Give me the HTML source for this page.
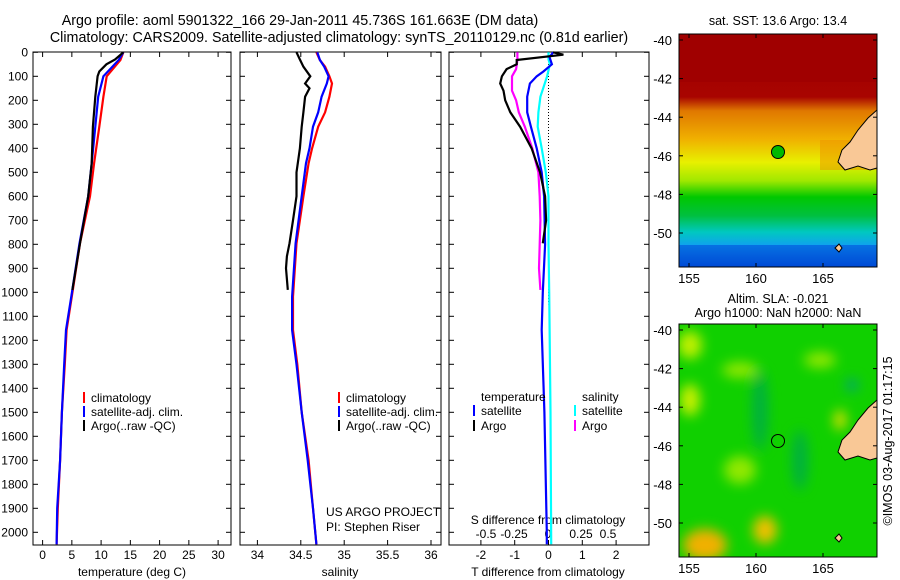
<!DOCTYPE html>
<html><head><meta charset="utf-8"><style>
body{margin:0;background:#fff;}
svg{display:block;font-family:"Liberation Sans",sans-serif;}
</style></head><body>
<svg id="fig" width="900" height="580" viewBox="0 0 900 580" xmlns="http://www.w3.org/2000/svg">
<defs>
<linearGradient id="sst" x1="0" y1="0" x2="0" y2="1">
<stop offset="0" stop-color="#a00000"/><stop offset="0.27" stop-color="#a80400"/>
<stop offset="0.33" stop-color="#e07800"/><stop offset="0.45" stop-color="#f0b000"/>
<stop offset="0.55" stop-color="#e8f000"/><stop offset="0.63" stop-color="#a0e800"/>
<stop offset="0.70" stop-color="#00c800"/><stop offset="0.78" stop-color="#00c040"/>
<stop offset="0.85" stop-color="#00c8c0"/><stop offset="0.91" stop-color="#10a0f0"/>
<stop offset="1" stop-color="#0040d0"/></linearGradient>
<filter id="blur"><feGaussianBlur stdDeviation="6"/></filter>
<clipPath id="c1"><rect x="679" y="34" width="198" height="233"/></clipPath>
<clipPath id="c2"><rect x="679" y="324" width="198" height="233"/></clipPath>
</defs>
<text x="300" y="25" text-anchor="middle" font-size="14.3">Argo profile: aoml 5901322_166 29-Jan-2011 45.736S 161.663E (DM data)</text>
<text x="339" y="42" text-anchor="middle" font-size="14.3">Climatology: CARS2009. Satellite-adjusted climatology: synTS_20110129.nc (0.81d earlier)</text>
<g id="panels"></g>

<g>
<text x="778" y="25" text-anchor="middle" font-size="12.5">sat. SST: 13.6 Argo: 13.4</text>
<g clip-path="url(#c1)">
<rect x="679" y="34" width="198" height="233" fill="url(#sst)"/>
<rect x="679" y="34" width="198" height="48" fill="#a00000"/>
<rect x="820" y="140" width="57" height="30" fill="#f09000" opacity="0.5"/>
<rect x="679" y="245" width="198" height="22" fill="#0050d8" opacity="0.6"/>
<path d="M877,110 L868,118 L858,130 L850,142 L842,150 L838,162 L845,170 L858,166 L870,170 L877,168 Z" fill="#f9c896" stroke="#000" stroke-width="1"/>
<path d="M835,248 l4,-4 l3,4 l-3,4z" fill="#f9c896" stroke="#000"/>
<circle cx="778" cy="152" r="6.5" fill="#00b800" stroke="#000" stroke-width="1"/>
</g>
<rect x="679" y="34" width="198" height="233" fill="none" stroke="#000"/>
</g>

<g>
<text x="778" y="303" text-anchor="middle" font-size="12.5">Altim. SLA: -0.021</text>
<text x="778" y="317" text-anchor="middle" font-size="12.5">Argo h1000: NaN h2000: NaN</text>
<g clip-path="url(#c2)">
<rect x="679" y="324" width="198" height="233" fill="#10d000"/>
<g filter="url(#blur)">
<ellipse cx="690" cy="345" rx="12" ry="14" fill="#c0f000"/>
<ellipse cx="740" cy="370" rx="18" ry="8" fill="#90e800"/>
<ellipse cx="820" cy="360" rx="16" ry="8" fill="#90e800"/>
<ellipse cx="690" cy="400" rx="10" ry="16" fill="#c8f000"/>
<ellipse cx="760" cy="410" rx="8" ry="40" fill="#00b040"/>
<ellipse cx="840" cy="420" rx="6" ry="10" fill="#e0e000"/>
<ellipse cx="852" cy="385" rx="6" ry="6" fill="#00a080"/>
<ellipse cx="740" cy="470" rx="16" ry="14" fill="#90e800"/>
<ellipse cx="705" cy="545" rx="22" ry="16" fill="#f0b000"/>
<ellipse cx="765" cy="530" rx="12" ry="14" fill="#f0c000"/>
<ellipse cx="800" cy="460" rx="8" ry="30" fill="#00b040"/>
</g>
<path d="M877,400 L868,408 L858,420 L850,432 L842,440 L838,452 L845,460 L858,456 L870,460 L877,458 Z" fill="#f9c896" stroke="#000" stroke-width="1"/>
<path d="M835,538 l4,-4 l3,4 l-3,4z" fill="#f9c896" stroke="#000"/>
<circle cx="778" cy="441" r="6.5" fill="none" stroke="#000" stroke-width="1"/>
</g>
<rect x="679" y="324" width="198" height="233" fill="none" stroke="#000"/>
</g>
<text transform="translate(892,441) rotate(-90)" text-anchor="middle" font-size="12.5">©IMOS 03-Aug-2017 01:17:15</text>
<g id="maplabels"></g>
</svg>
<script>
const NS='http://www.w3.org/2000/svg';
const svgP=document.getElementById('panels');
const depthTicks=[0,100,200,300,400,500,600,700,800,900,1000,1100,1200,1300,1400,1500,1600,1700,1800,1900,2000];
const tempTicks=[0,5,10,15,20,25,30];
const salTicks=[34,34.5,35,35.5,36];
const salTickLabels=['34','34.5','35','35.5','36'];
const tdiffTicks=[-2,-1,0,1,2];
const sdiffTicks=[-0.5,-0.25,0,0.25,0.5];
const climDepth=[0,32,100,185,310,462,600,796,1018,1157,1300,1500,1700,1900,2050];
const climTemp=[13.8,13.3,10.95,10.4,9.7,8.8,8.1,6.4,5.0,4.1,3.8,3.3,3.0,2.6,2.4];
const satTemp=[13.8,13.0,10.4,9.5,9.0,8.4,7.8,6.3,4.9,4.0,3.7,3.3,3.0,2.5,2.4];
const argoDepth=[0,30,50,80,100,185,310,462,600,796,990];
const argoTemp=[13.8,12.4,10.9,9.7,9.4,9.0,8.6,8.4,7.8,6.4,5.1];
const salDepth=[0,32,60,100,130,185,250,310,400,462,600,796,1018,1157,1300,1500,1700,1900,2050];
const climSal=[34.68,34.72,34.78,34.83,34.86,34.83,34.78,34.70,34.63,34.59,34.53,34.45,34.41,34.41,34.46,34.51,34.59,34.64,34.68];
const satSal=[34.69,34.72,34.77,34.82,34.80,34.74,34.70,34.64,34.60,34.56,34.51,34.44,34.40,34.40,34.45,34.51,34.58,34.64,34.68];
const argoSalDepth=[0,30,60,100,130,150,185,250,310,400,500,600,700,796,850,900,990];
const argoSal=[34.45,34.49,34.53,34.61,34.55,34.60,34.55,34.53,34.51,34.49,34.45,34.45,34.41,34.37,34.34,34.33,34.35];
const argoTdDepth=[0,10,32,50,70,100,130,160,200,250,310,400,500,600,700,796];
const argoTdiff=[0.14,0.44,-0.94,-0.94,-1.24,-1.38,-1.43,-1.33,-1.28,-1.13,-0.84,-0.50,-0.25,-0.10,-0.07,-0.17];
const argoSdDepth=[0,32,70,100,160,200,250,310,400,500,600,700,800,900,990];
const argoSdiff=[-0.23,-0.23,-0.24,-0.27,-0.27,-0.24,-0.22,-0.175,-0.12,-0.075,-0.065,-0.06,-0.065,-0.07,-0.06];
const satTdDepth=[0,20,50,80,100,130,185,250,310,400,500,600,800,1000,1157,1500,2000,2050];
const satTdiff=[0.14,0.03,0.1,-0.15,-0.35,-0.55,-0.63,-0.63,-0.52,-0.35,-0.20,-0.13,-0.10,-0.17,-0.20,-0.12,-0.05,-0.05];
const satSdDepth=[0,30,50,100,185,250,310,400,500,600,800,1000,1500,2050];
const satSdiff=[0,0,0.01,-0.01,-0.06,-0.075,-0.08,-0.05,-0.02,0,0,0.005,0.015,0.02];

const yD=d=>52.3+d*0.24;
const P1={x0:33,x1:231,f:v=>42.6+v*5.85};
const P2={x0:240,x1:441,f:v=>257.4+(v-34)*86.8};
const P3={x0:449,x1:649,f:v=>548.5+v*33.8};
const sx3=v=>548.5+v*4*33.8;
const pTop=52,pBot=545;
const FS=12;
function el(tag,attrs,parent){const e=document.createElementNS(NS,tag);for(const k in attrs)e.setAttribute(k,attrs[k]);(parent||svgP).appendChild(e);return e;}
function txt(x,yy,s,anchor,size,name){const t=el('text',{x:x,y:yy,'text-anchor':anchor||'middle','font-size':size||FS});t.textContent=s;


return t;}
function frame(P,name){const r=el('rect',{x:P.x0,y:pTop,width:P.x1-P.x0,height:pBot-pTop,fill:'none',stroke:'#000'});


depthTicks.forEach(d=>{el('line',{x1:P.x0,x2:P.x0+5,y1:yD(d),y2:yD(d),stroke:'#000'});el('line',{x1:P.x1,x2:P.x1-5,y1:yD(d),y2:yD(d),stroke:'#000'});});}
function xticks(P,vals,fn,labels,name){vals.forEach((v,i)=>{const X=fn(v);el('line',{x1:X,x2:X,y1:pTop,y2:pTop+5,stroke:'#000'});el('line',{x1:X,x2:X,y1:pBot,y2:pBot-5,stroke:'#000'});
if(labels)txt(X,559,labels[i],'middle',FS,name);});}
function line(xs,ds,fx,color,name,w){const pts=xs.map((v,i)=>fx(v).toFixed(1)+','+yD(ds[i]).toFixed(1)).join(' ');
const p=el('polyline',{points:pts,fill:'none',stroke:color,'stroke-width':w||2.2});

}
frame(P1,'temperature-panel');
xticks(P1,tempTicks,P1.f,tempTicks.map(String),'temperature-tick-label');
depthTicks.forEach(d=>txt(28,yD(d)+4,String(d),'end',FS,'depth-tick-label'));
line(climTemp,climDepth,P1.f,'#ff0000','temp-climatology-line');
line(satTemp,climDepth,P1.f,'#0000ff','temp-satellite-line');
line(argoTemp,argoDepth,P1.f,'#000','temp-argo-line');
txt(132,576,'temperature (deg C)','middle',FS,'temperature-axis-title');
frame(P2,'salinity-panel');
xticks(P2,salTicks,P2.f,salTickLabels,'salinity-tick-label');
line(climSal,salDepth,P2.f,'#ff0000','sal-climatology-line');
line(satSal,salDepth,P2.f,'#0000ff','sal-satellite-line');
line(argoSal,argoSalDepth,P2.f,'#000','sal-argo-line');
txt(340,576,'salinity','middle',FS,'salinity-axis-title');
txt(326,516,'US ARGO PROJECT','start',FS,'project-label');
txt(326,531,'PI: Stephen Riser','start',FS,'pi-label');
frame(P3,'difference-panel');
xticks(P3,tdiffTicks,P3.f,tdiffTicks.map(String),'tdiff-tick-label');
const sl=['-0.5','-0.25','0','0.25','0.5'];
const sxp=[486,514,548,581,608];
sl.forEach((s,i)=>txt(sxp[i],538,s,'middle',FS,'sdiff-tick-label'));
txt(548,524,'S difference from climatology','middle',FS,'sdiff-axis-title');
txt(548,576,'T difference from climatology','middle',FS,'tdiff-axis-title');
el('line',{x1:548.5,x2:548.5,y1:pTop,y2:yD(1050),stroke:'#000','stroke-dasharray':'1,2'});
line(satSdiff,satSdDepth,sx3,'#00ffff','sdiff-satellite-line');
line(argoSdiff,argoSdDepth,sx3,'#ff00ff','sdiff-argo-line');
line(satTdiff,satTdDepth,P3.f,'#0000ff','tdiff-satellite-line');
line(argoTdiff,argoTdDepth,P3.f,'#000','tdiff-argo-line');
function leg(x,yy,color,label,name){el('line',{x1:x,x2:x,y1:yy-6,y2:yy+5,stroke:color,'stroke-width':2});txt(x+7,yy+4,label,'start',FS,name);}
leg(84,398,'#ff0000','climatology','legend-climatology');
leg(84,412,'#0000ff','satellite-adj. clim.','legend-satellite');
leg(84,426,'#000','Argo(..raw -QC)','legend-argo');
leg(339,398,'#ff0000','climatology','legend2-climatology');
leg(339,412,'#0000ff','satellite-adj. clim.','legend2-satellite');
leg(339,426,'#000','Argo(..raw -QC)','legend2-argo');
txt(481,401,'temperature','start',FS,'legend-temperature-header');
txt(582,401,'salinity','start',FS,'legend-salinity-header');
leg(474,411,'#0000ff','satellite','legend-t-satellite');
leg(474,426,'#000','Argo','legend-t-argo');
leg(575,411,'#00ffff','satellite','legend-s-satellite');
leg(575,426,'#ff00ff','Argo','legend-s-argo');
const ml=document.getElementById('maplabels');
const latTicks=[-40,-42,-44,-46,-48,-50];
const lonTicks=[155,160,165];
[[34,40],[324,330]].forEach(([fy,y40])=>{
latTicks.forEach(l=>{const Y=y40+(-40-l)*19.3;
const t=el('text',{x:672,y:Y+5,'text-anchor':'end','font-size':13},ml);t.textContent=String(l);


el('line',{x1:679,x2:683,y1:Y,y2:Y,stroke:'#000'},ml);el('line',{x1:877,x2:873,y1:Y,y2:Y,stroke:'#000'},ml);});
lonTicks.forEach(l=>{const X=689+(l-155)*13.4;
const t=el('text',{x:X,y:fy+233+16,'text-anchor':'middle','font-size':13},ml);t.textContent=String(l);


el('line',{x1:X,x2:X,y1:fy,y2:fy+4,stroke:'#000'},ml);el('line',{x1:X,x2:X,y1:fy+233,y2:fy+229,stroke:'#000'},ml);});
});
</script>
</body></html>
